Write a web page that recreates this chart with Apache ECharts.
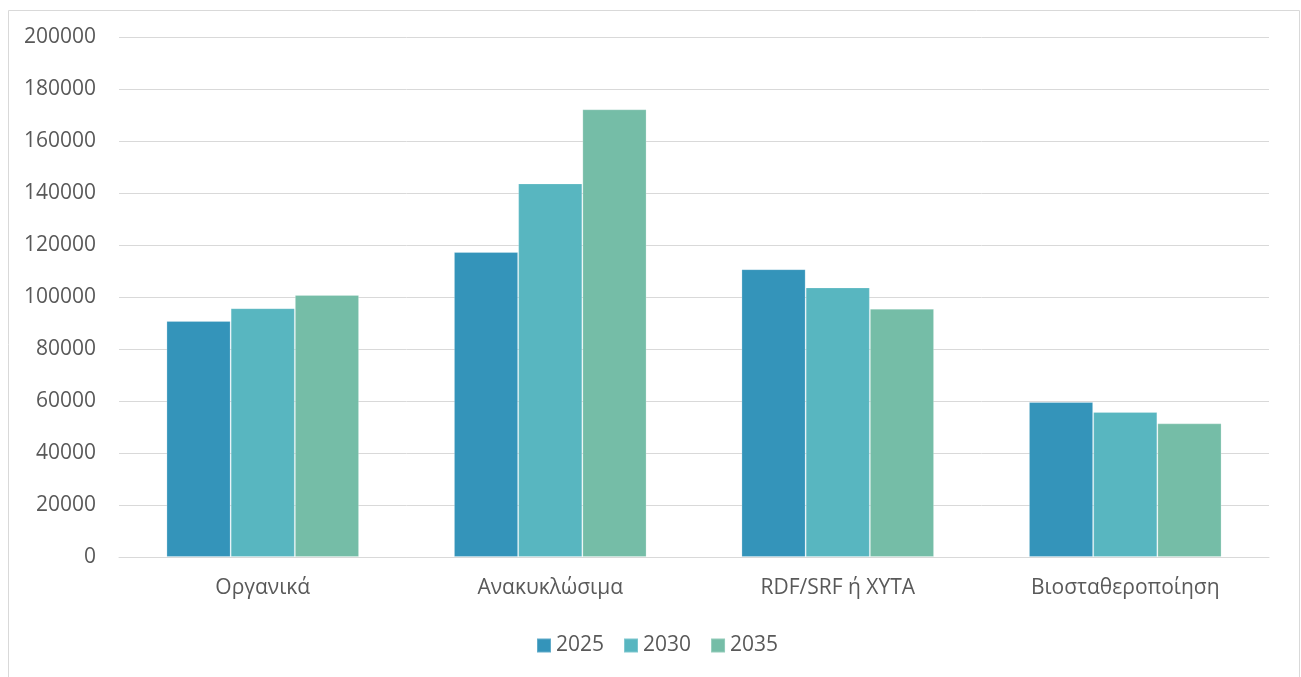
<!DOCTYPE html>
<html>
<head>
<meta charset="utf-8">
<script src="https://cdn.jsdelivr.net/npm/echarts@6/dist/echarts.min.js"></script>
<style>html,body{margin:0;padding:0;background:#fff;}#c{width:1301px;height:677px;}</style>
</head>
<body>
<div id="c"></div>
<script>
const categories = ['Οργανικά', 'Ανακυκλώσιμα', 'RDF/SRF ή ΧΥΤΑ', 'Βιοσταθεροποίηση'];
const seriesNames = ['2025', '2030', '2035'];
const values2025 = [90800, 117300, 110700, 59600];
const values2030 = [95700, 143700, 103700, 55800];
const values2035 = [100800, 172200, 95500, 51400];
const colors = ['#3494BA', '#58B6C0', '#75BDA7'];
const yTicks = { min: 0, max: 200000, interval: 20000 };

const font = '"Open Sans", "Noto Sans", sans-serif';
const chart = echarts.init(document.getElementById('c'), null, { renderer: 'canvas' });
const data = [values2025, values2030, values2035];
chart.setOption({
  animation: false,
  textStyle: { fontFamily: font },
  graphic: [{
    type: 'rect', left: 6, top: 8, silent: true,
    shape: { x: 0, y: 0, width: 1291, height: 700 },
    style: { fill: 'none', stroke: '#d9d9d9', lineWidth: 1 }
  }],
  grid: { left: 119, right: 32, top: 37, bottom: 120, containLabel: false },
  legend: {
    data: seriesNames,
    left: 531, top: 630,
    icon: 'rect', itemWidth: 14, itemHeight: 14, itemGap: 19, 
    textStyle: { fontSize: 21, color: '#595959', fontFamily: font }
  },
  xAxis: {
    type: 'category', data: categories,
    axisLine: { lineStyle: { color: '#d9d9d9', width: 1 } },
    axisTick: { show: false },
    axisLabel: { fontSize: 21, color: '#595959', margin: 21, fontFamily: font }
  },
  yAxis: {
    type: 'value', min: yTicks.min, max: yTicks.max, interval: yTicks.interval,
    axisLine: { show: false }, axisTick: { show: false },
    splitLine: { lineStyle: { color: '#d9d9d9', width: 1 } },
    axisLabel: { fontSize: 21, color: '#595959', margin: 23, fontFamily: font,
      formatter: v => String(v) }
  },
  series: seriesNames.map((n, i) => ({
    name: n, type: 'bar', data: data[i],
    barGap: '0%', barCategoryGap: '33%',
    itemStyle: { color: colors[i], borderColor: 'rgba(255,255,255,0.22)', borderWidth: 1 }
  }))
});
</script>
</body>
</html>
